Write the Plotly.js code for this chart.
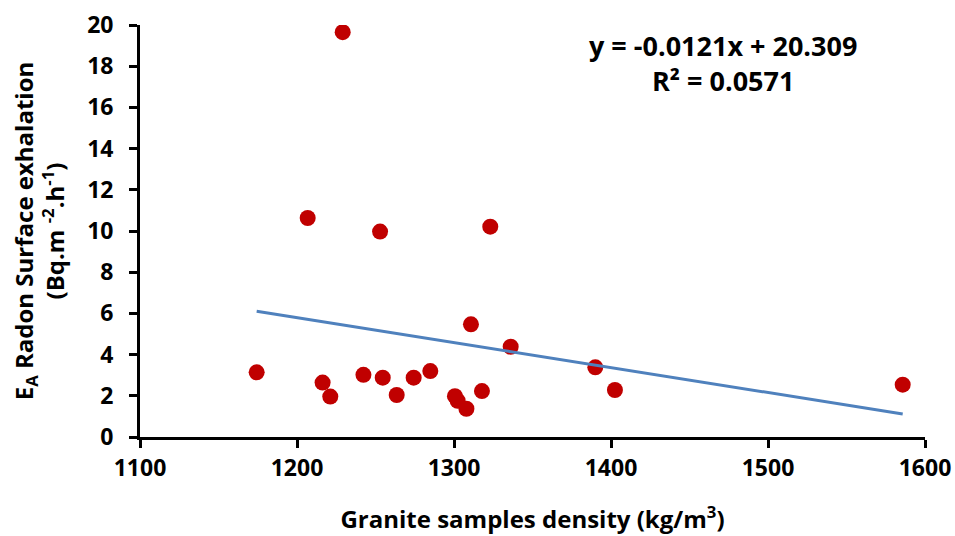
<!DOCTYPE html>
<html>
<head>
<meta charset="utf-8">
<script src="https://cdn.plot.ly/plotly-3.0.1.min.js"></script>
<style>html,body{margin:0;padding:0;background:#fff;}#chart{width:955px;height:536px;}</style>
</head>
<body>
<div id="chart"></div>
<script>
const density = [1174.3, 1206.8, 1229.1, 1216.3, 1221.2, 1242.3, 1252.9, 1254.6, 1263.5, 1274.3, 1284.9, 1300.6, 1302.3, 1307.9, 1317.8, 1310.8, 1323.1, 1336.1, 1390.0, 1402.5, 1585.8];
const exhalation = [3.14, 10.63, 19.65, 2.64, 1.96, 3.02, 9.97, 2.88, 2.04, 2.88, 3.20, 1.98, 1.76, 1.37, 2.23, 5.47, 10.21, 4.38, 3.38, 2.28, 2.54];
const trendX = [1174.3, 1585.8];
const trendY = [6.10, 1.12];
const xTicks = [1100, 1200, 1300, 1400, 1500, 1600];
const yTicks = [0, 2, 4, 6, 8, 10, 12, 14, 16, 18, 20];
const equationText = 'y = -0.0121x + 20.309<br>R² = 0.0571';

const FONT = '"Open Sans", "Noto Sans", sans-serif';

const traces = [
  {
    x: trendX, y: trendY, mode: 'lines', type: 'scatter', xaxis: 'x', yaxis: 'y2',
    line: {color: '#4F81BD', width: 3}, hoverinfo: 'skip', showlegend: false
  },
  {
    x: density, y: exhalation, mode: 'markers', type: 'scatter', xaxis: 'x', yaxis: 'y',
    marker: {color: '#C00000', size: 16}, showlegend: false
  }
];

const tickFont = {family: FONT, size: 23, color: '#000', weight: 700};
const axisCommon = {
  showgrid: false, zeroline: false, showline: true, linecolor: '#000', linewidth: 3,
  ticks: 'outside', ticklen: 8, tickwidth: 3, tickcolor: '#000', tickfont: tickFont
};

const layout = {
  width: 955, height: 536,
  margin: {l: 100, r: 30, t: 25, b: 99},
  paper_bgcolor: '#fff', plot_bgcolor: '#fff',
  font: {family: FONT, color: '#000'},
  xaxis: Object.assign({}, axisCommon, {
    domain: [0.0485, 1],
    range: [1100, 1600], tickvals: xTicks, ticktext: xTicks.map(String),
    title: {text: 'Granite samples density (kg/m<sup>3</sup>)', font: {family: FONT, size: 24, color: '#000', weight: 700}, standoff: 30}
  }),
  yaxis: Object.assign({}, axisCommon, {
    anchor: 'x',
    range: [0, 20], tickvals: yTicks, showticklabels: false,
    title: {text: 'E<sub>A</sub> Radon Surface exhalation<br>(Bq.m <sup>-2</sup>.h<sup>-1</sup>)', font: {family: FONT, size: 24, color: '#000', weight: 700}, standoff: 58}
  }),
  yaxis2: {
    overlaying: 'y', anchor: 'free', position: 0.0164, side: 'left',
    range: [0, 20], tickvals: yTicks, ticktext: yTicks.map(String),
    showgrid: false, zeroline: false, showline: false, ticks: '', tickfont: tickFont
  },
  annotations: [{
    xref: 'paper', yref: 'paper', x: 0.755, y: 1.0, xanchor: 'center', yanchor: 'top',
    text: equationText, showarrow: false, align: 'center',
    font: {family: FONT, size: 27, color: '#000', weight: 700}
  }]
};

Plotly.newPlot('chart', traces, layout, {displayModeBar: false, staticPlot: true});
</script>
</body>
</html>
